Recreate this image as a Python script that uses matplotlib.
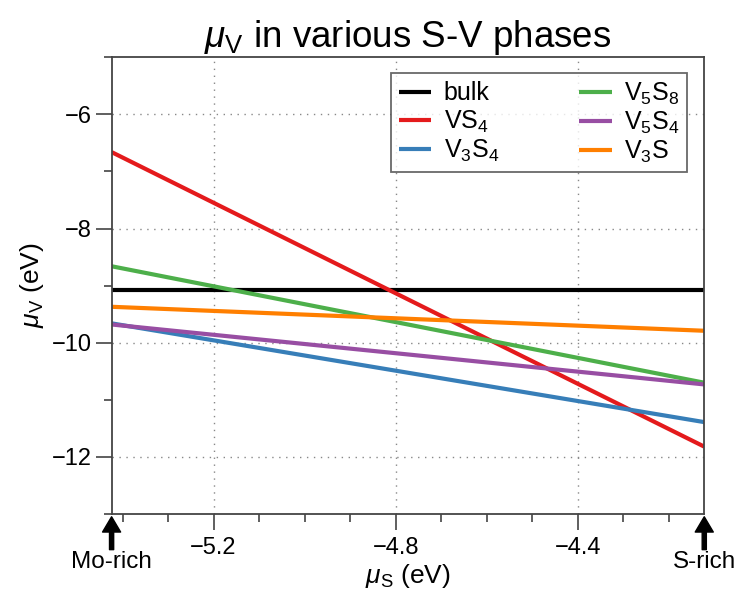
import numpy as np
import matplotlib
matplotlib.use("Agg")
import matplotlib.pyplot as plt
from matplotlib.ticker import MultipleLocator

plt.rcParams['font.family'] = ['Liberation Sans', 'DejaVu Sans']
plt.rcParams['mathtext.fontset'] = 'custom'
plt.rcParams['mathtext.rm'] = 'Liberation Sans'
plt.rcParams['mathtext.it'] = 'Liberation Sans:italic'

# chemical potential range of S (Mo-rich -> S-rich)
mu_s_range = [-5.424, -4.122]

# mu_V at the two ends of the range for each phase
phases = ['bulk', r'VS$_{\rm 4}$', r'V$_{\rm 3}$S$_{\rm 4}$',
          r'V$_{\rm 5}$S$_{\rm 8}$', r'V$_{\rm 5}$S$_{\rm 4}$', r'V$_{\rm 3}$S']
mu_v_left = [-9.08, -6.66, -9.66, -8.66, -9.68, -9.37]
mu_v_right = [-9.08, -11.82, -11.39, -10.70, -10.73, -9.79]
colors = ['black', '#e41a1c', '#377eb8', '#4daf4a', '#984ea3', '#ff7f00']

fig = plt.figure(figsize=(7.39, 5.97), dpi=100)
ax = fig.add_axes([0.151, 0.139, 0.802, 0.765])

for name, yl, yr, c in zip(phases, mu_v_left, mu_v_right, colors):
    ax.plot(mu_s_range, [yl, yr], color=c, lw=3, label=name, solid_capstyle='butt')

ax.set_xlim(mu_s_range)
ax.set_ylim(-13, -5)
ax.xaxis.set_major_locator(MultipleLocator(0.4))
ax.xaxis.set_minor_locator(MultipleLocator(0.1))
ax.yaxis.set_major_locator(MultipleLocator(2))
ax.yaxis.set_minor_locator(MultipleLocator(1))
ax.grid(True, which='major', ls=(0, (1, 4)), color='#888888', lw=1)

ax.tick_params(which='major', direction='out', length=11.5, width=1.2,
               labelsize=17, color='#444444')
ax.tick_params(which='minor', direction='out', length=6, width=1.2, color='#444444')
ax.tick_params(axis='x', pad=5)
ax.tick_params(axis='y', pad=3)
for sp in ax.spines.values():
    sp.set_color('#444444')
    sp.set_linewidth(1.3)

ax.set_xlabel(r'$\mu_{\rm S}$ (eV)', fontsize=19, labelpad=2)
ax.set_ylabel(r'$\mu_{\rm V}$ (eV)', fontsize=19, labelpad=4)
ax.set_title(r'$\mu_{\rm V}$ in various S-V phases', fontsize=26.5, pad=6)

leg = ax.legend(ncol=2, loc='upper right', bbox_to_anchor=(0.971, 0.966), fontsize=18,
                frameon=True, fancybox=False, edgecolor='#444444', borderaxespad=0,
                handlelength=1.3, columnspacing=3.2, labelspacing=0.12,
                borderpad=0.3, handletextpad=0.5)
leg.get_frame().set_linewidth(1.3)

for xv, txt in zip(mu_s_range, ['Mo-rich', 'S-rich']):
    ax.annotate('', xy=(xv, -0.006), xycoords=('data', 'axes fraction'),
                xytext=(xv, -0.078), textcoords=('data', 'axes fraction'),
                arrowprops=dict(facecolor='black', edgecolor='black', width=3,
                                headwidth=13, headlength=11, shrink=0))
    ax.text(xv, -0.105, txt, transform=ax.get_xaxis_transform(), ha='center',
            va='center', fontsize=17.5, clip_on=False)

fig.savefig('out.png', dpi=100)
